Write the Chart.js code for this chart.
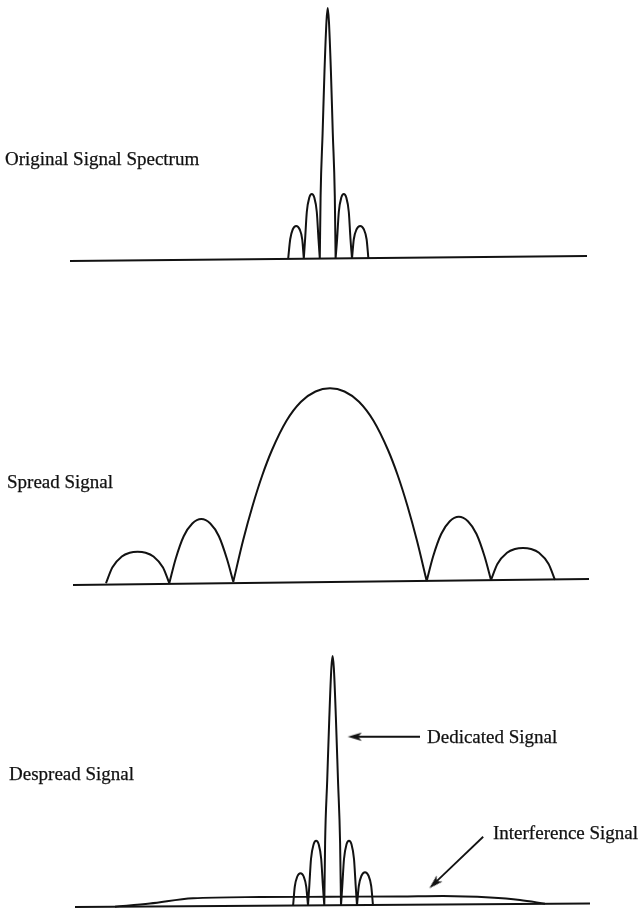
<!DOCTYPE html>
<html lang="en">
<head>
  <meta charset="UTF-8">
  <script src="https://cdn.jsdelivr.net/npm/chart.js"></script>
  <title>Spread Spectrum</title>
  <style>
    html, body {
      margin: 0;
      padding: 0;
      background: #ffffff;
      overflow: hidden;
    }

    #wrap {
      position: relative;
      width: 642px;
      height: 911px;
    }

    #chart {
      position: absolute;
      left: 0;
      top: 0;
    }

    .label {
      position: absolute;
      font-family: "Liberation Serif", "Times New Roman", serif;
      font-size: 19px;
      line-height: 19px;
      color: #111111;
      -webkit-text-stroke: 0.25px #111111;
      white-space: nowrap;
    }
  </style>
</head>
<body>

  <div id="wrap">
    <canvas id="chart" width="642" height="911"></canvas>
    <div class="label" style="left:5px; top:149px;">Original Signal Spectrum</div>
    <div class="label" style="left:7px; top:472px;">Spread Signal</div>
    <div class="label" style="left:9px; top:764px;">Despread Signal</div>
    <div class="label" style="left:427px; top:727px;">Dedicated Signal</div>
    <div class="label" style="left:493px; top:823px;">Interference Signal</div>
  </div>

  <script>
    // frequency (arbitrary units) and amplitude (peak of original = 100)
    // null separates the lobes so each lobe meets the next one in a cusp
    const originalFreq = [
      -4.18, -3.98, -3.72, -3.38, -3.04, -2.78, -2.62, null,
      -2.62, -2.49, -2.32, -2.06, -1.82, -1.58, -1.32, -1.15, -1.02, null,
      -1.02, -0.94, -0.74, -0.55, -0.35, -0.23, -0.11, 0.09, 0.28, 0.48, 0.56, null,
      0.56, 0.71, 0.88, 1.14, 1.38, 1.62, 1.88, 2.05, 2.20, null,
      2.20, 2.38, 2.66, 3.02, 3.38, 3.66, 3.84
    ];
    const originalAmp = [
      0, 7.7, 11.7, 13, 11.7, 7.7, 0, null,
      0, 7.7, 18.6, 24.5, 25.8, 24.5, 18.6, 7.7, 0, null,
      0, 25, 50, 75, 95, 100.2, 95, 75, 50, 25, 0, null,
      0, 7.7, 18.6, 24.5, 25.8, 24.5, 18.6, 7.7, 0, null,
      0, 7.7, 11.7, 13, 11.7, 7.7, 0
    ];

    const spreadFreq = [
      -22.4, -21.77, -20.82, -20.03, -19.24, -18.44, -17.65, -16.70, -16.07, null,
      -16.07, -15.43, -14.63, -13.77, -12.87, -11.97, -11.11, -10.31, -9.67, null,
      -9.67, -8.70, -7.74, -6.77, -5.80, -4.35, -2.90, -1.45, 0,
      1.45, 2.90, 4.35, 5.80, 6.77, 7.74, 8.70, 9.67, null,
      9.67, 10.31, 11.12, 11.98, 12.88, 13.79, 14.65, 15.46, 16.1, null,
      16.1, 16.74, 17.7, 18.5, 19.3, 20.1, 20.9, 21.86, 22.5
    ];
    const spreadAmp = [
      -0.5, 5.8, 10.2, 11.7, 12.1, 11.7, 10.2, 5.8, -0.5, null,
      -0.5, 9.3, 18.3, 23.4, 25.2, 23.4, 18.3, 9.3, 0.1, null,
      0.1, 16.5, 30.5, 42.7, 52.8, 64.5, 72.1, 76.2, 77.5,
      76.2, 72.1, 64.5, 52.8, 42.7, 30.5, 16.5, 0.4, null,
      0.4, 10.2, 19.2, 24.3, 26.1, 24.3, 19.2, 10.2, 0.8, null,
      0.8, 7.2, 11.7, 13.2, 13.6, 13.2, 11.7, 7.2, 0.8
    ];

    const despreadFreq = [
      -3.69, -3.52, -3.27, -2.95, -2.63, -2.38, -2.2, null,
      -2.2, -2.07, -1.9, -1.63, -1.39, -1.14, -0.88, -0.71, -0.57, null,
      -0.57, -0.49, -0.28, -0.07, 0.135, 0.26, 0.385, 0.59, 0.80, 1.01, 1.1, null,
      1.1, 1.23, 1.4, 1.66, 1.9, 2.14, 2.4, 2.57, 2.7, null,
      2.7, 2.88, 3.16, 3.5, 3.84, 4.12, 4.3
    ];
    const despreadAmp = [
      0, 7.6, 11.6, 12.9, 11.6, 7.6, 0, null,
      0, 7.8, 18.6, 24.6, 25.9, 24.6, 18.6, 7.8, 0, null,
      0, 25, 50, 75, 95, 99.8, 95, 75, 50, 25, 0, null,
      0, 7.8, 18.6, 24.6, 25.9, 24.6, 18.6, 7.8, 0, null,
      0, 7.8, 12, 13.3, 12, 7.8, 0
    ];

    const interferenceFreq = [-21.5, -18, -13.7, -7, 0, 7, 11.3, 16, 19, 21.5];
    const interferenceAmp = [-0.5, 0.8, 2.9, 3.4, 3.5, 3.6, 3.8, 3.2, 2.2, 0.7];

    // frequency axis lines, one per panel
    const originalAxisFreq = [-26.0, 25.7];
    const originalAxisAmp = [-1.0, 1.0];
    const spreadAxisFreq = [-25.7, 25.9];
    const spreadAxisAmp = [-1.2, 1.2];
    const despreadAxisFreq = [-25.5, 26.0];
    const despreadAxisAmp = [-0.6, 0.8];

    // pointer arrows in the bottom panel (tail, head)
    const dedicatedArrowFreq = [9.0, 2.47];
    const dedicatedArrowAmp = [67.5, 67.5];
    const interferenceArrowFreq = [15.32, 10.44];
    const interferenceArrowAmp = [27.5, 8.82];

    // layout: where each panel's zero amplitude sits, and the amplitude scale
    const canvasHeight = 911;
    const pxPerUnit = 2.5;
    const panelZeroPx = [258.5, 582, 905.5];
    const freqMin = -33, freqMax = 31.2;
    const ink = '#121212';

    function toPoints(xs, ys) {
      return xs.map((x, i) => ({ x: x === null ? xs[i - 1] : x, y: ys[i] }));
    }

    function panelScale(zeroPx) {
      const max = zeroPx / pxPerUnit;
      return { type: 'linear', display: false, min: max - canvasHeight / pxPerUnit, max: max };
    }

    // small barbed arrow head, pointing up, used as a point style
    function makeArrowHead() {
      const c = document.createElement('canvas');
      c.width = 16;
      c.height = 16;
      const g = c.getContext('2d');
      g.fillStyle = ink;
      g.beginPath();
      g.moveTo(8, 1);
      g.lineTo(12.2, 15);
      g.lineTo(8, 11.5);
      g.lineTo(3.8, 15);
      g.closePath();
      g.fill();
      return c;
    }
    const arrowHead = makeArrowHead();

    function curve(xs, ys, axis, width) {
      return {
        data: toPoints(xs, ys),
        yAxisID: axis,
        borderColor: ink,
        borderWidth: width || 2,
        pointRadius: 0,
        cubicInterpolationMode: 'monotone',
        spanGaps: false,
        fill: false
      };
    }

    function arrow(xs, ys, rotation) {
      return {
        data: toPoints(xs, ys),
        yAxisID: 'y3',
        borderColor: ink,
        borderWidth: 1.8,
        pointRadius: [0, 7],
        pointStyle: arrowHead,
        pointRotation: rotation,
        tension: 0,
        fill: false
      };
    }

    new Chart(document.getElementById('chart'), {
      type: 'line',
      data: {
        datasets: [
          curve(originalFreq, originalAmp, 'y1'),
          curve(originalAxisFreq, originalAxisAmp, 'y1'),
          curve(spreadFreq, spreadAmp, 'y2'),
          curve(spreadAxisFreq, spreadAxisAmp, 'y2'),
          curve(despreadFreq, despreadAmp, 'y3'),
          curve(interferenceFreq, interferenceAmp, 'y3', 1.8),
          curve(despreadAxisFreq, despreadAxisAmp, 'y3'),
          arrow(dedicatedArrowFreq, dedicatedArrowAmp, 270),
          arrow(interferenceArrowFreq, interferenceArrowAmp, 226)
        ]
      },
      options: {
        responsive: false,
        animation: false,
        events: [],
        layout: { padding: 0, autoPadding: false },
        plugins: {
          legend: { display: false },
          tooltip: { enabled: false }
        },
        scales: {
          x: { type: 'linear', display: false, min: freqMin, max: freqMax },
          y1: panelScale(panelZeroPx[0]),
          y2: panelScale(panelZeroPx[1]),
          y3: panelScale(panelZeroPx[2])
        }
      }
    });
  </script>

</body>
</html>
